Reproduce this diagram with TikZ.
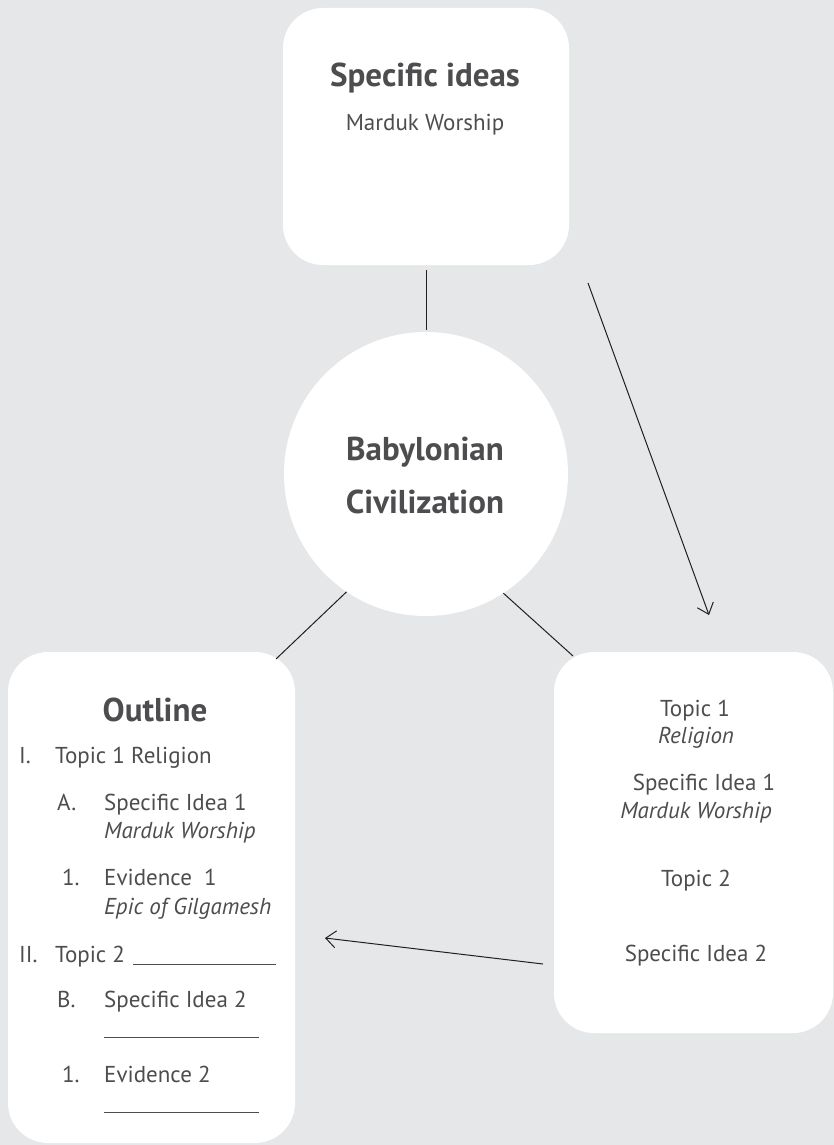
\documentclass[tikz,border=0pt]{standalone}
\usepackage{fontspec}
\setmainfont{PT Sans}
\usetikzlibrary{arrows.meta}
\definecolor{bggray}{HTML}{E6E7E8}
\definecolor{txtgray}{HTML}{4D4D4F}
\definecolor{linegray}{HTML}{231F20}

\begin{document}
\begin{tikzpicture}[x=1pt,y=-1pt,
    card/.style={fill=white, draw=none, rounded corners=40pt, inner sep=0pt},
    head/.style={font=\fontsize{33}{38}\selectfont\bfseries, text=txtgray, inner sep=0pt, anchor=base},
    item/.style={font=\fontsize{23}{27}\selectfont, text=txtgray, inner sep=0pt, anchor=base west},
    mid/.style={font=\fontsize{23}{27}\selectfont, text=txtgray, inner sep=0pt, anchor=base},
    blank/.style={fill=txtgray, inner sep=0pt, minimum height=0.9pt, anchor=west},
    link/.style={draw=linegray, line width=1pt},
    pointer/.style={link, -{Straight Barb[length=10pt,width=17pt]}}]
    \fill [bggray] (0,0) rectangle (834,1145);
    \useasboundingbox (0,0) rectangle (834,1145);

    \node [card, minimum width=286pt, minimum height=257pt] (spec) at (426,136.5) {};
    \node [head] (specT) at (425,87) {Specific ideas};
    \node [mid] (specM) at (425,131) {Marduk Worship};

    \node [circle, fill=white, minimum size=284pt, inner sep=0pt] (civ) at (426,474) {};
    \node [head] (civA) at (425,460) {Babylonian};
    \node [head] (civB) at (425,513) {Civilization};

    \node [card, minimum width=287pt, minimum height=491pt] (outl) at (151.5,897.5) {};
    \node [head] (outlT) at (155,721) {Outline};
    \node [item] (n1) at (19,763) {I.};
    \node [item] (n1t) at (55,763) {Topic 1 Religion};
    \node [item] (nA) at (57,810) {A.};
    \node [item] (nAt) at (104,810) {Specific Idea 1};
    \node [item] (nAi) at (104,838) {\itshape Marduk Worship};
    \node [item] (n11) at (62,885) {1.};
    \node [item] (n11t) at (104,885) {Evidence\ \ 1};
    \node [item] (n11i) at (104,914) {\itshape Epic of Gilgamesh};
    \node [item] (n2) at (19,962) {II.};
    \node [item] (n2t) at (55,962) {Topic 2};
    \node [blank, minimum width=143pt] (n2b) at (133,964) {};
    \node [item] (nB) at (57,1007) {B.};
    \node [item] (nBt) at (104,1007) {Specific Idea 2};
    \node [blank, minimum width=155pt] (nBb) at (104,1037) {};
    \node [item] (n21) at (62,1082) {1.};
    \node [item] (n21t) at (104,1082) {Evidence 2};
    \node [blank, minimum width=155pt] (n21b) at (104,1112) {};

    \node [card, minimum width=279pt, minimum height=381pt] (tops) at (693.5,842.5) {};
    \node [mid] (t1) at (695,716) {Topic 1};
    \node [mid] (t1i) at (696,743) {\itshape Religion};
    \node [mid] (s1) at (704,790) {Specific Idea 1};
    \node [mid] (s1i) at (696,818) {\itshape Marduk Worship};
    \node [mid] (t2) at (696,886) {Topic 2};
    \node [mid] (s2) at (696,961) {Specific Idea 2};

    \coordinate (leftEnd) at (276,659);
    \coordinate (rightEnd) at (573,656);
    \coordinate (downFrom) at (588,283);
    \coordinate (downTo) at (709,615);
    \coordinate (backFrom) at (543,964);
    \coordinate (backTo) at (325,938);

    \draw [link] ([yshift=-5pt]spec.south) -- ([yshift=2pt]civ.north);
    \draw [link] (civ.236.3) -- (leftEnd);
    \draw [link] (civ.303.7) -- (rightEnd);
    \draw [pointer] (downFrom) -- (downTo);
    \draw [pointer] (backFrom) -- (backTo);
\end{tikzpicture}
\end{document}
